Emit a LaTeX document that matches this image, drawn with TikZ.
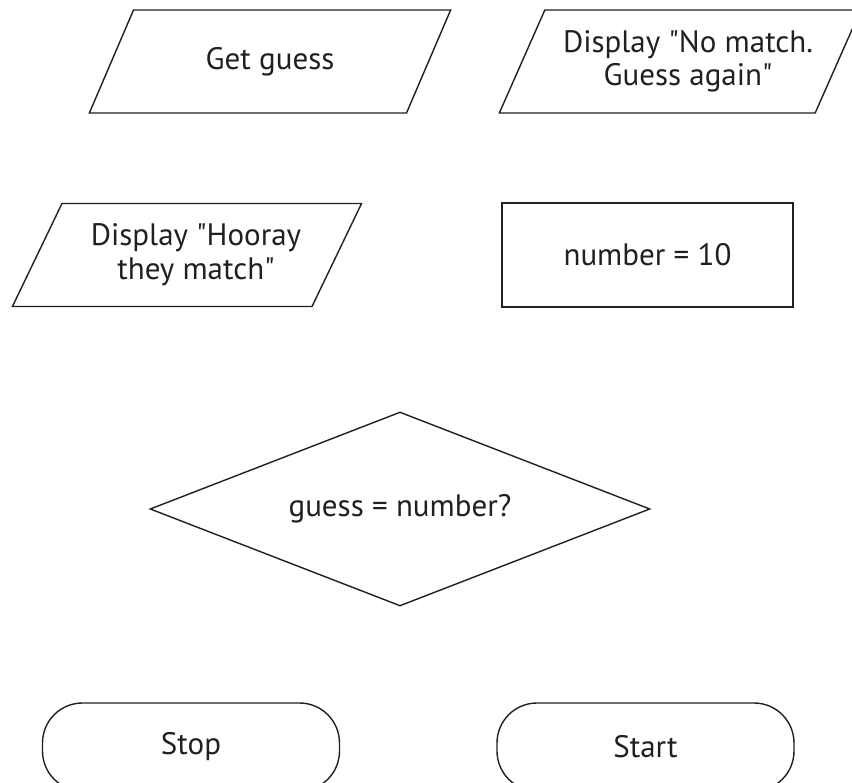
\documentclass[tikz,border=0pt]{standalone}
\usepackage{fontspec}
\setmainfont{PT Sans}[Ligatures=TeXOff]
\usetikzlibrary{shapes.geometric}
\definecolor{ink}{RGB}{35,31,32}

\begin{document}
\begin{tikzpicture}[x=1pt, y=-1pt, line width=1.4pt, draw=ink, text=ink,
    font=\fontsize{31}{29}\selectfont,
    io/.style={draw, trapezium, trapezium left angle=54, trapezium right angle=126,
      trapezium stretches=true, minimum width=362, minimum height=103,
      inner sep=0pt, align=center},
    process/.style={draw, rectangle, minimum width=291, minimum height=104, align=center},
    decision/.style={draw, diamond, aspect=2.58, minimum width=500, minimum height=194, inner sep=0pt},
    terminal/.style={draw, rectangle, rounded corners=40, minimum width=297, minimum height=88}]
    \useasboundingbox (0,0) rectangle (852,783);

    % inputs and outputs
    \node[io] (getguess) at (270,61.5) {Get guess};
    \node[io] (nomatch) at (680,61.5) {\hspace{16pt}Display "No match.\\[4pt] \hspace{16pt}Guess again"};
    \node[io, minimum width=350] (hooray) at (187,255) {\hspace{18pt}Display "Hooray\\[5pt] \hspace{18pt}they match"};

    % process and decision
    \node[process] (number) at (647.5,255) {number = 10};
    \node[decision] (check) at (400,509) {guess = number?};

    % terminals
    \node[terminal] (stop) at (191,747) {Stop};
    \node[terminal] (start) at (645.5,747) {Start};
\end{tikzpicture}
\end{document}
